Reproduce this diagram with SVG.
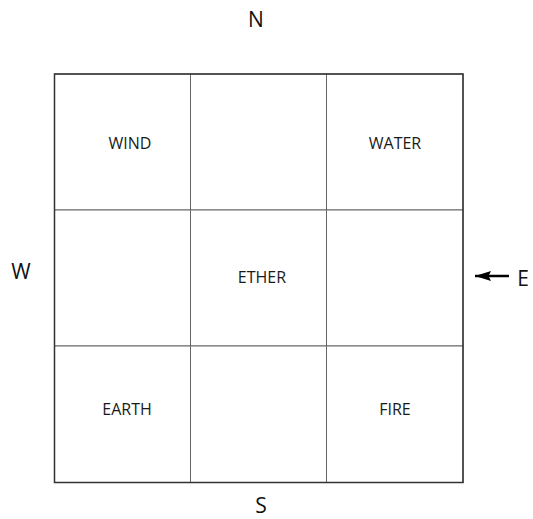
<svg xmlns="http://www.w3.org/2000/svg" width="533" height="519" viewBox="0 0 533 519">
<style>
.cell{fill:#fff;stroke:#666;stroke-width:1}
.lbl{font-family:"Open Sans","DejaVu Sans",sans-serif;font-size:16px;fill:#1a1a1a;text-anchor:middle}
.dir{font-family:"Open Sans","DejaVu Sans",sans-serif;font-size:21px;fill:#111;text-anchor:middle}
</style>
<defs>
<marker id="ah" markerWidth="17" markerHeight="11" refX="16" refY="5.5" orient="auto" markerUnits="userSpaceOnUse">
<path d="M0,0.5 L16,5.5 L0,10.5 L2.5,5.5 Z" fill="#000"/>
</marker>
</defs>
<rect width="533" height="519" fill="#fff"/>
<g id="grid">
<g id="cell-wind"><rect class="cell" x="54.5" y="74" width="136" height="136"/><text class="lbl" x="130" y="149">WIND</text></g>
<g id="cell-n"><rect class="cell" x="190.5" y="74" width="136" height="136"/></g>
<g id="cell-water"><rect class="cell" x="326.5" y="74" width="136.5" height="136"/><text class="lbl" x="395" y="149">WATER</text></g>
<g id="cell-w"><rect class="cell" x="54.5" y="210" width="136" height="136"/></g>
<g id="cell-ether"><rect class="cell" x="190.5" y="210" width="136" height="136"/><text class="lbl" x="262" y="283">ETHER</text></g>
<g id="cell-e"><rect class="cell" x="326.5" y="210" width="136.5" height="136"/></g>
<g id="cell-earth"><rect class="cell" x="54.5" y="346" width="136" height="136.5"/><text class="lbl" x="127" y="415">EARTH</text></g>
<g id="cell-s"><rect class="cell" x="190.5" y="346" width="136" height="136.5"/></g>
<g id="cell-fire"><rect class="cell" x="326.5" y="346" width="136.5" height="136.5"/><text class="lbl" x="395" y="415">FIRE</text></g>
<rect x="54.5" y="74" width="408.5" height="408.5" fill="none" stroke="#333" stroke-width="1.5"/>
</g>
<g id="compass">
<text class="dir" x="256" y="27">N</text>
<text class="dir" x="21" y="279">W</text>
<text class="dir" x="523" y="286">E</text>
<text class="dir" x="261" y="513">S</text>
</g>
<g id="connectors">
<line x1="509" y1="276" x2="475" y2="276" stroke="#000" stroke-width="2.5" marker-end="url(#ah)"/>
</g>
</svg>
